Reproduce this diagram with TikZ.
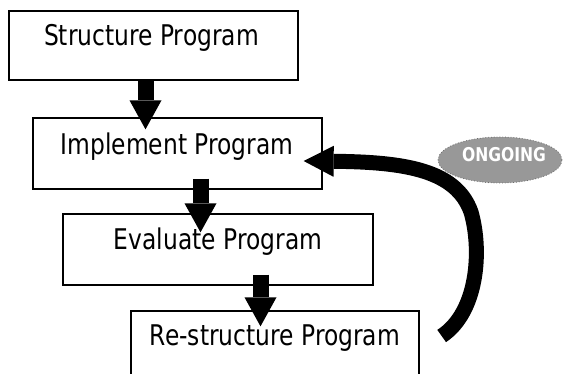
\documentclass[tikz,border=0pt]{standalone}
\usepackage{fontspec}
\setmainfont[FakeStretch=0.82]{DejaVu Sans}
\usetikzlibrary{arrows.meta,calc,shapes.geometric}
\definecolor{ovalfill}{RGB}{152,152,152}
\definecolor{ovaledge}{RGB}{110,110,110}
\begin{document}
\begin{tikzpicture}[x=1pt,y=-1pt,
  box/.style={draw=black,line width=1.3pt,inner sep=0pt},
  boxtext/.style={anchor=base,inner sep=0pt,font=\fontsize{28.5}{32}\selectfont},
  blk/.style={line width=16pt,-{Triangle[width=32pt,length=29pt,line width=0pt]}},
  loop/.style={line width=15pt,-{Triangle[width=31pt,length=30pt,line width=0pt]}},
  oval/.style={ellipse,fill=ovalfill,draw=ovaledge,dotted,line width=0.8pt,inner sep=0pt},
  ovaltext/.style={anchor=base,inner sep=0pt,text=white,font=\bfseries\fontsize{19}{22}\selectfont}]
\useasboundingbox (0,0) rectangle (563,374);
\fill[white] (0,0) rectangle (563,374);

% boxes
\node[box,minimum width=289pt,minimum height=69pt] (b1) at (153.5,45.5) {};
\node[box,minimum width=289pt,minimum height=71pt] (b2) at (177.5,153.5) {};
\node[box,minimum width=310pt,minimum height=71pt] (b3) at (218,249.5) {};
\node[box,minimum width=288pt,minimum height=72pt] (b4) at (275,347) {};

% texts
\node[boxtext] (t1) at (151.5,46) {Structure Program};
\node[boxtext] (t2) at (177,155) {Implement Program};
\node[boxtext] (t3) at (218,250) {Evaluate Program};
\node[boxtext] (t4) at (275,346) {Re-structure Program};

% ongoing oval
\node[oval,minimum width=124pt,minimum height=46pt] (og) at (500,160) {};
\node[ovaltext] (ogt) at (504,162) {ONGOING};

% block arrows
\draw[blk] ([xshift=-8pt]b1.south) -- ([xshift=-32pt,yshift=-12pt]b2.north);
\draw[blk] ([xshift=23pt,yshift=11pt]b2.south) -- ([xshift=-17.5pt,yshift=-19pt]b3.north);
\draw[blk] ([xshift=42.5pt,yshift=11pt]b3.south) -- ([xshift=-14.5pt,yshift=-16pt]b4.north);

% loop-back arrow
\coordinate (tail) at ([xshift=22pt,yshift=11pt]b4.east);
\coordinate (tip) at ([xshift=-19pt,yshift=-7.5pt]b2.east);
\draw[loop] (tail) .. controls (478,312) and (482,250) .. (471,212)
  .. controls (456,170) and (405,162) .. (tip);
\end{tikzpicture}
\end{document}
